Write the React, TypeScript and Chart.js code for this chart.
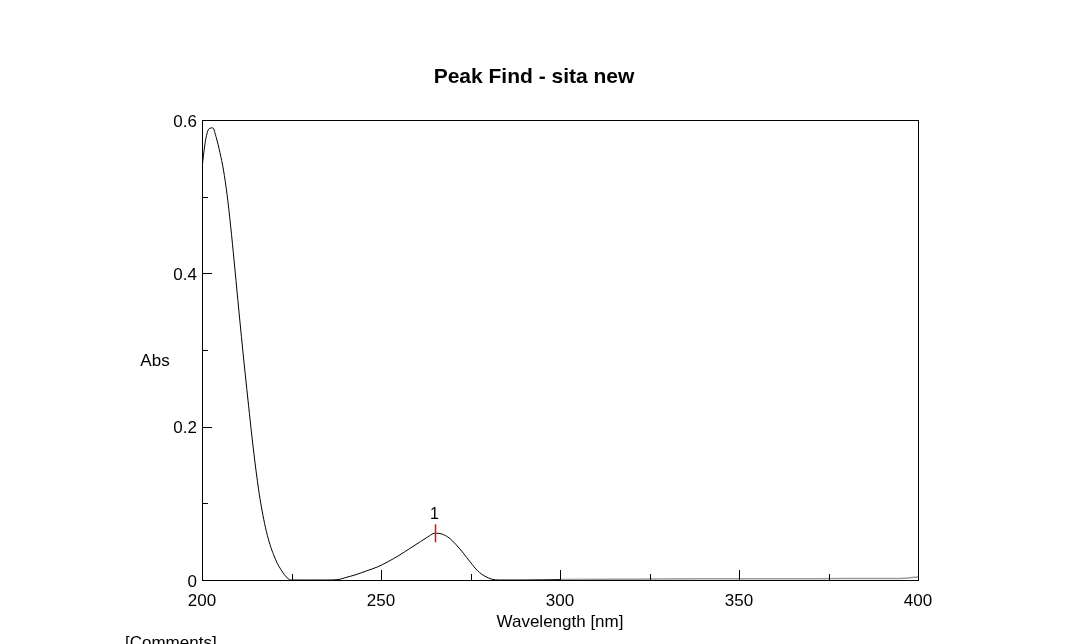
import React, { useEffect, useRef } from "react";
import { Chart, registerables } from "chart.js";

Chart.register(...registerables);

const wavelengths = [
  200, 201, 202, 203, 204, 205, 206, 207, 208, 209, 210, 211, 212, 213, 214, 215,
  216, 217, 218, 219, 220, 221, 222, 223, 224, 225, 230, 235, 238, 240, 243, 246,
  249, 252, 255, 258, 261, 263, 265, 267, 269, 271, 273, 275, 277, 279, 281, 283,
  290, 300, 320, 340, 360, 380, 395, 400,
];
const absorbance = [
  0.538, 0.574, 0.589, 0.59, 0.577, 0.558, 0.535, 0.503, 0.462, 0.415, 0.366,
  0.318, 0.272, 0.228, 0.185, 0.146, 0.112, 0.085, 0.063, 0.046, 0.033, 0.022,
  0.014, 0.007, 0.002, 0, 0, 0, 0.0005, 0.003, 0.007, 0.012, 0.017, 0.024, 0.032,
  0.041, 0.05, 0.056, 0.061, 0.06, 0.055, 0.046, 0.035, 0.023, 0.012, 0.005,
  0.001, 0, 0, 0.0005, 0.001, 0.0015, 0.0015, 0.002, 0.002, 0.004,
];
const peakWavelengths = [265];
const peakValues = [0.061];
const peakLabels = ["1"];
const xMajorTicks = [200, 250, 300, 350, 400];
const yMajorTicks = [0, 0.2, 0.4, 0.6];

const FONT = "'Liberation Sans', Arial, sans-serif";

const framePlugin = {
  id: "frameAndMarks",
  afterDatasetsDraw(chart: any) {
    const { ctx, chartArea: a, scales } = chart;
    const xs = scales.x;
    const ys = scales.y;
    ctx.save();
    ctx.strokeStyle = "#000";
    ctx.lineWidth = 1;
    ctx.strokeRect(Math.round(a.left) + 0.5, Math.round(a.top) + 0.5, Math.round(a.right - a.left), Math.round(a.bottom - a.top));
    ctx.beginPath();
    for (let v = 200; v <= 400; v += 25) {
      const px = Math.round(xs.getPixelForValue(v)) + 0.5;
      const len = xMajorTicks.includes(v) ? 10 : 6;
      ctx.moveTo(px, a.bottom);
      ctx.lineTo(px, a.bottom - len);
    }
    for (let i = 0; i <= 6; i++) {
      const v = i / 10;
      const py = Math.round(ys.getPixelForValue(v)) + 0.5;
      const len = yMajorTicks.some((t) => Math.abs(t - v) < 1e-9) ? 10 : 6;
      ctx.moveTo(a.left, py);
      ctx.lineTo(a.left + len, py);
    }
    ctx.stroke();
    peakWavelengths.forEach((w, i) => {
      const px = Math.round(xs.getPixelForValue(w)) + 0.5;
      const py = ys.getPixelForValue(peakValues[i]);
      ctx.strokeStyle = "#ff0000";
      ctx.lineWidth = 1.5;
      ctx.beginPath();
      ctx.moveTo(px, py - 9);
      ctx.lineTo(px, py + 9);
      ctx.stroke();
      ctx.fillStyle = "#000";
      ctx.font = `16px ${FONT}`;
      ctx.textAlign = "center";
      ctx.textBaseline = "middle";
      ctx.fillText(peakLabels[i], px - 1, py - 19);
    });
    ctx.fillStyle = "#000";
    ctx.font = `17px ${FONT}`;
    ctx.textAlign = "center";
    ctx.textBaseline = "middle";
    ctx.fillText("Abs", a.left - 47, (a.top + a.bottom) / 2 + 11);
    ctx.textAlign = "left";
    ctx.fillText("[Comments]", 125, a.bottom + 63);
    ctx.restore();
  },
};

export default function App() {
  const ref = useRef<HTMLCanvasElement | null>(null);
  useEffect(() => {
    document.body.style.margin = "0";
    const canvas = ref.current;
    if (!canvas) return;
    const chart = new Chart(canvas, {
      type: "line",
      data: {
        datasets: [
          {
            data: wavelengths.map((w, i) => ({ x: w, y: absorbance[i] })),
            borderColor: "#000",
            borderWidth: 1,
            pointRadius: 0,
            cubicInterpolationMode: "monotone",
            fill: false,
            segment: {
              borderColor: (c: any) => (c.p0.parsed.x >= 300 ? "#9a9a9a" : "#000"),
              borderWidth: (c: any) => (c.p0.parsed.x >= 300 ? 1.5 : 1),
            },
          },
        ],
      },
      options: {
        responsive: false,
        animation: false,
        layout: { padding: { left: 150, right: 150, top: 0, bottom: 0 } },
        plugins: {
          legend: { display: false },
          tooltip: { enabled: false },
          title: {
            display: true,
            text: "Peak Find - sita new",
            color: "#000",
            font: { family: FONT, size: 21, weight: "bold" },
            padding: { top: 65, bottom: 30 },
          },
        },
        scales: {
          x: {
            type: "linear",
            min: 200,
            max: 400,
            afterFit: (s: any) => {
              s.height = 64;
            },
            grid: { display: false, drawTicks: false },
            border: { display: false },
            ticks: {
              stepSize: 50,
              color: "#000",
              padding: 11,
              maxRotation: 0,
              font: { family: FONT, size: 17 },
              callback: (v: any) => String(v),
            },
            title: {
              display: true,
              text: "Wavelength [nm]",
              color: "#000",
              font: { family: FONT, size: 17 },
              padding: { top: 0, bottom: 11 },
            },
          },
          y: {
            min: 0,
            max: 0.6,
            afterFit: (s: any) => {
              s.width = 52;
            },
            grid: { display: false, drawTicks: false },
            border: { display: false },
            ticks: {
              stepSize: 0.2,
              color: "#000",
              padding: 5,
              labelOffset: 2,
              font: { family: FONT, size: 17 },
              callback: (v: any) => (Math.abs(v) < 1e-9 ? "0" : Number(v).toFixed(1)),
            },
          },
        },
      },
      plugins: [framePlugin],
    });
    return () => chart.destroy();
  }, []);
  return <canvas ref={ref} width={1068} height={644} style={{ display: "block" }} />;
}
